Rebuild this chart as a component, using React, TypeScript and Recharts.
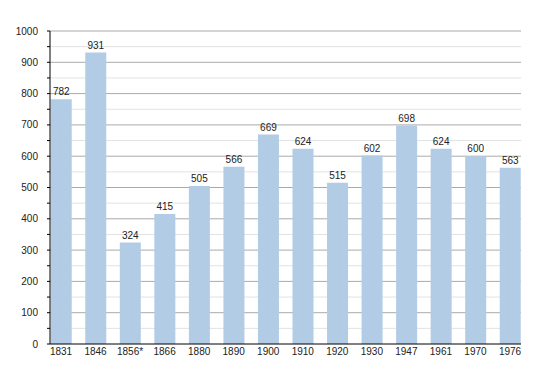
import React from 'react';
import { BarChart, Bar, XAxis, YAxis, CartesianGrid, LabelList } from 'recharts';

const years = ['1831', '1846', '1856*', '1866', '1880', '1890', '1900', '1910', '1920', '1930', '1947', '1961', '1970', '1976'];
const population = [782, 931, 324, 415, 505, 566, 669, 624, 515, 602, 698, 624, 600, 563];
const yTicks = [0, 50, 100, 150, 200, 250, 300, 350, 400, 450, 500, 550, 600, 650, 700, 750, 800, 850, 900, 950, 1000];
const majorLines = [100, 200, 300, 400, 500, 600, 700, 800, 900, 1000];
const minorLines = [50, 150, 250, 350, 450, 550, 650, 750, 850, 950];

const data = years.map((y, i) => ({ year: y, value: population[i] }));

const font = '"Liberation Sans", Arial, Helvetica, sans-serif';

export default function App() {
  return (
    <div style={{ position: 'absolute', left: 0, top: 0, width: 550, height: 373, background: '#fff' }}>
      <BarChart
        width={550}
        height={373}
        data={data}
        margin={{ top: 31, right: 29, left: 0, bottom: 0 }}
      >
        <CartesianGrid vertical={false} horizontalValues={minorLines} stroke="#e2e2e2" strokeWidth={1} />
        <CartesianGrid vertical={false} horizontalValues={majorLines} stroke="#aaaaaa" strokeWidth={1} />
        <XAxis
          dataKey="year"
          scale="point"
          padding={{ left: 11, right: 11 }}
          height={29}
          tickLine={false}
          tickSize={0}
          tickMargin={4}
          axisLine={{ stroke: '#000', strokeWidth: 1 }}
          tick={{ fontSize: 10, fill: '#222', fontFamily: font }}
          interval={0}
        />
        <YAxis
          width={50}
          domain={[0, 1000]}
          ticks={yTicks}
          interval={0}
          tickSize={3}
          tickMargin={9}
          tickLine={{ stroke: '#000' }}
          axisLine={{ stroke: '#000', strokeWidth: 1 }}
          tickFormatter={(v: number) => (v % 100 === 0 ? String(v) : '')}
          tick={{ fontSize: 10, fill: '#222', fontFamily: font }}
        />
        <Bar dataKey="value" fill="#b3cce6" barSize={21} isAnimationActive={false}>
          <LabelList dataKey="value" position="top" offset={4} style={{ fontSize: 10, fill: '#222', fontFamily: font }} />
        </Bar>
      </BarChart>
    </div>
  );
}
